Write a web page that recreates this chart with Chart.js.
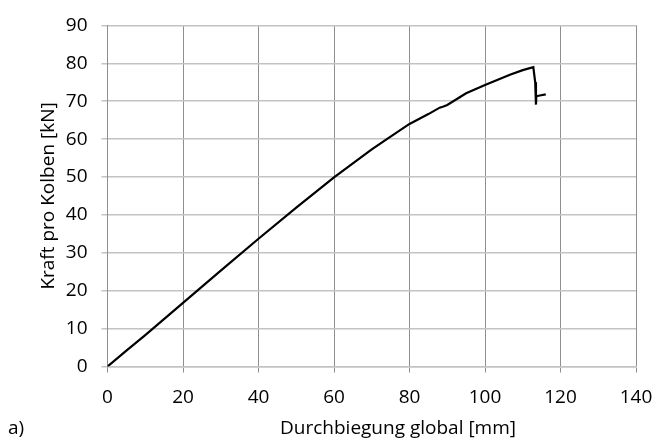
<!DOCTYPE html>
<html>
<head>
<meta charset="utf-8">
<script src="https://cdn.jsdelivr.net/npm/chart.js@4"></script>
<style>
	body { margin: 0; background: #fff; }
	#wrap { position: relative; width: 661px; height: 439px; font-family: 'Open Sans'; font-size: 19px; color: #000; }
	#tag { position: absolute; left: 8px; top: 414px; }
	#xTitle { position: absolute; left: 279px; width: 238px; top: 414px; text-align: center; white-space: nowrap; }
</style>
</head>
<body>
<div id="wrap">
	<canvas id="curveChart" width="661" height="439"></canvas>
	<div id="tag">a)</div>
	<div id="xTitle">Durchbiegung global [mm]</div>
</div>
<script>
// Durchbiegung global [mm]
var defl = [0, 5, 10, 20, 30, 40, 50, 60, 70, 74, 80, 85, 88, 89, 90, 95, 100, 106.6, 110, 112.8, 113.3, 113.5, 113.6, 114.5, 116.1];
// Kraft pro Kolben [kN]
var force = [0, 4.2, 8.3, 16.8, 25.3, 33.7, 41.9, 49.9, 57.3, 60, 64.0, 66.6, 68.3, 68.6, 69.0, 72.1, 74.3, 77.0, 78.2, 79.0, 75, 69.1, 71.3, 71.5, 71.8];

var xTicks = [0, 20, 40, 60, 80, 100, 120, 140];
var yTicks = [0, 10, 20, 30, 40, 50, 60, 70, 80, 90];

var points = defl.map(function(d, i) {
	return { x: d, y: force[i] };
});

var font = { family: 'Open Sans', size: 19 };

var chartArea = document.getElementById('curveChart').getContext('2d');
var myChart = new Chart(chartArea, {
	type: 'scatter',
	data: {
		datasets: [{
			data: points,
			showLine: true,
			borderColor: '#000',
			borderWidth: 2.2,
			pointRadius: 0,
			tension: 0
		}]
	},
	options: {
		responsive: false,
		animation: false,
		layout: {
			padding: { left: 0, right: 25, top: 24, bottom: 0 }
		},
		plugins: {
			legend: { display: false },
			tooltip: { enabled: false }
		},
		scales: {
			x: {
				type: 'linear',
				min: xTicks[0],
				max: xTicks[xTicks.length - 1],
				afterBuildTicks: function(scale) {
					scale.ticks = xTicks.map(function(v) { return { value: v }; });
				},
				afterFit: function(scale) {
					scale.height = 72.5;
					// keep the plot edge where the layout padding puts it
					scale.paddingLeft = 0;
					scale.paddingRight = 0;
				},
				grid: { color: '#8e8e8e', lineWidth: 1, tickLength: 6 },
				border: { color: '#c3c3c3', width: 1.5 },
				ticks: { color: '#000', font: font, padding: 14, maxRotation: 0 }
			},
			y: {
				min: yTicks[0],
				max: yTicks[yTicks.length - 1],
				afterBuildTicks: function(scale) {
					scale.ticks = yTicks.map(function(v) { return { value: v }; });
				},
				afterFit: function(scale) {
					scale.width = 107.5;
				},
				grid: { color: '#c3c3c3', lineWidth: 1.5, tickLength: 6 },
				border: { color: '#8e8e8e', width: 1 },
				ticks: { color: '#000', font: font, padding: 14 },
				title: {
					display: true,
					text: 'Kraft pro Kolben [kN]',
					color: '#000',
					font: font,
					padding: { top: 37, bottom: 0 }
				}
			}
		}
	}
});
</script>
</body>
</html>
